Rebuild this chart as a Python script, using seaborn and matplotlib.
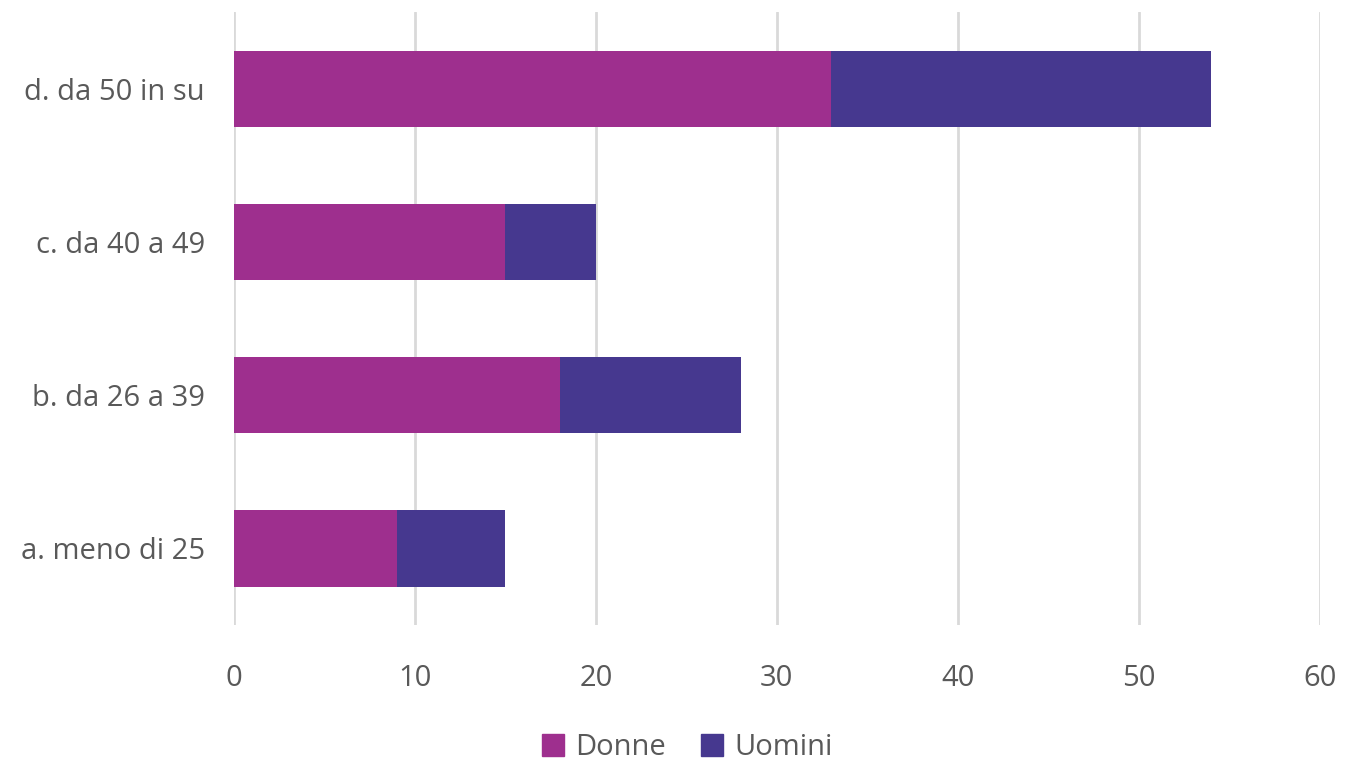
import pandas as pd
import numpy as np
import matplotlib.pyplot as plt
import seaborn as sb
from matplotlib.patches import Patch

categories = ['d. da 50 in su', 'c. da 40 a 49', 'b. da 26 a 39', 'a. meno di 25']
donne = [33, 15, 18, 9]
uomini = [21, 5, 10, 6]
ticks = [0, 10, 20, 30, 40, 50, 60]

col_donne = '#9E2F8E'
col_uomini = '#46388F'
grey_txt = '#595959'

sb.set_style('white')
plt.rcParams['font.family'] = ['Open Sans', 'DejaVu Sans']

df = pd.DataFrame({'cat': categories, 'Donne': donne, 'Uomini': uomini})
df['Totale'] = df['Donne'] + df['Uomini']

fig = plt.figure(figsize=(13.48, 7.63), dpi=100)
ax = fig.add_axes([0.1736, 0.181, 0.979 - 0.1736, 0.984 - 0.181])

sb.barplot(data=df, x='Totale', y='cat', order=categories, color=col_uomini,
           width=0.5, saturation=1, orient='h', ax=ax, zorder=3, linewidth=0)
sb.barplot(data=df, x='Donne', y='cat', order=categories, color=col_donne,
           width=0.5, saturation=1, orient='h', ax=ax, zorder=4, linewidth=0)

ax.set_xlim(0, 60)
ax.set_ylim(3.5, -0.5)
ax.set_xticks(ticks)
ax.xaxis.grid(True, color='#D9D9D9', linewidth=2, zorder=0)
ax.set_axisbelow(True)
for s in ax.spines.values():
    s.set_visible(False)
ax.tick_params(axis='both', length=0, labelsize=21, colors=grey_txt)
ax.tick_params(axis='y', pad=21)
ax.tick_params(axis='x', pad=28)
ax.set_xlabel('')
ax.set_ylabel('')

handles = [Patch(color=col_donne, label='Donne'), Patch(color=col_uomini, label='Uomini')]
fig.legend(handles=handles, loc='center', bbox_to_anchor=(0.51, 0.02), ncol=2,
           frameon=False, fontsize=21, handlelength=0.75, handleheight=0.75,
           handletextpad=0.4, columnspacing=1.2, labelcolor=grey_txt)

plt.savefig('out.png', dpi=100)
